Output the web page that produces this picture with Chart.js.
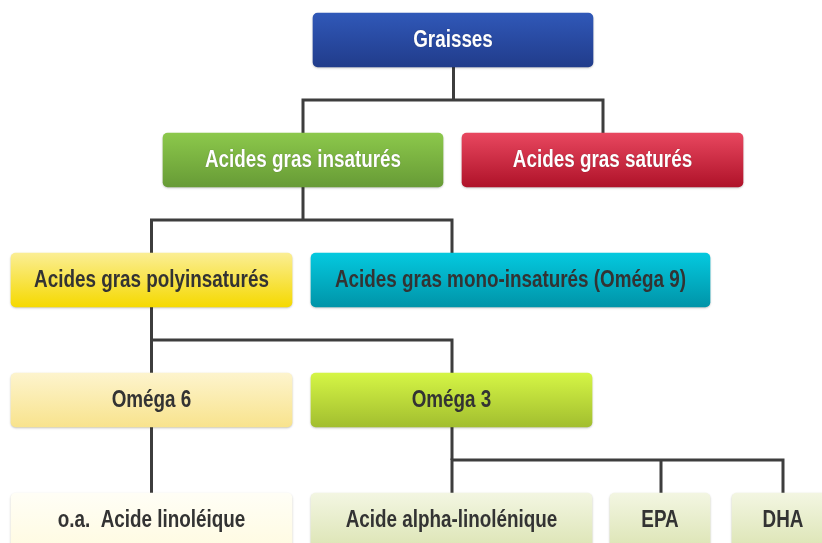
<!DOCTYPE html>
<html>
<head>
<meta charset="utf-8">
<script src="https://cdn.jsdelivr.net/npm/chart.js@4/dist/chart.umd.min.js"></script>
<style>
  html, body { margin: 0; padding: 0; background: #fff; }
  canvas { display: block; }
</style>
</head>
<body>
<canvas id="tree" width="822" height="543"></canvas>
<script>
// boxes of the tree
const labels = [
    "Graisses",
    "Acides gras insaturés",
    "Acides gras saturés",
    "Acides gras polyinsaturés",
    "Acides gras mono-insaturés (Oméga 9)",
    "Oméga 6",
    "Oméga 3",
    "o.a.  Acide linoléique",
    "Acide alpha-linolénique",
    "EPA",
    "DHA",
];
const levels = [0, 1, 1, 2, 2, 3, 3, 4, 4, 4, 4];
const starts = [313, 163, 462, 11, 311, 11, 311, 11, 311, 610, 732];
const ends = [593, 443, 743, 292, 710, 292, 592, 292, 592, 710, 834];
// where the connector line meets each box
const anchors = [453.5, 303, 603, 151.5, 452, 151.5, 452, 151.5, 452, 661, 783];
const parents = [-1, 0, 0, 1, 1, 3, 3, 5, 6, 6, 6];

// colours (top of gradient, bottom of gradient, text)
const topColors = ["#3058b8", "#8cc84b", "#e8475f", "#fbee94", "#04c9df", "#fdf4cd", "#d5f545", "#fffef6", "#f3f6e2", "#f3f6e2", "#f3f6e2"];
const bottomColors = ["#213c8b", "#679b36", "#af1229", "#f5d900", "#0094a8", "#f8e38d", "#a2be2f", "#fffbe2", "#dde5b6", "#dde5b6", "#dde5b6"];
const textColors = ["#fff", "#fff", "#fff", "#333", "#333", "#333", "#333", "#333", "#333", "#333", "#333"];

const boxData = labels.map((l, i) => ({ y: levels[i], x: [starts[i], ends[i]] }));

function boxGradient(context) {
    const chart = context.chart;
    const i = context.dataIndex;
    if (!chart.chartArea || i === undefined) return topColors[i] || "#ccc";
    const yc = chart.scales.y.getPixelForValue(levels[i]);
    const g = chart.ctx.createLinearGradient(0, yc - 27, 0, yc + 27);
    g.addColorStop(0, topColors[i]);
    g.addColorStop(1, bottomColors[i]);
    return g;
}

// connectors built from the parent links
const segments = [];
for (let p = 0; p < labels.length; p++) {
    const kids = [];
    parents.forEach((q, k) => { if (q === p) kids.push(k); });
    if (!kids.length) continue;
    const px = anchors[p];
    const pl = levels[p];
    const bus = pl + 0.5;
    if (kids.length === 1 && anchors[kids[0]] === px) {
        segments.push([{ x: px, y: pl }, { x: px, y: levels[kids[0]] }]);
        continue;
    }
    kids.sort((a, b) => anchors[a] - anchors[b]);
    const first = kids[0];
    const last = kids[kids.length - 1];
    segments.push([
        { x: anchors[first], y: levels[first] },
        { x: anchors[first], y: bus },
        { x: anchors[last], y: bus },
        { x: anchors[last], y: levels[last] },
    ]);
    segments.push([{ x: px, y: pl }, { x: px, y: bus }]);
    kids.slice(1, -1).forEach((k) => {
        segments.push([{ x: anchors[k], y: bus }, { x: anchors[k], y: levels[k] }]);
    });
}

const lineSets = segments.map((s) => ({
    type: "line",
    data: s,
    borderColor: "#3d3d3d",
    borderWidth: 3,
    pointRadius: 0,
    fill: false,
    tension: 0,
    borderJoinStyle: "miter",
    order: 1,
}));

const boxShadow = {
    id: "boxShadow",
    beforeDatasetDraw(chart, args) {
        if (args.index !== 0) return;
        const ctx = chart.ctx;
        ctx.save();
        ctx.shadowColor = "rgba(0,0,0,0.22)";
        ctx.shadowBlur = 2;
        ctx.shadowOffsetY = 1;
    },
    afterDatasetDraw(chart, args) {
        if (args.index !== 0) return;
        chart.ctx.restore();
    },
};

const boxLabels = {
    id: "boxLabels",
    afterDatasetsDraw(chart) {
        const ctx = chart.ctx;
        const meta = chart.getDatasetMeta(0);
        meta.data.forEach((bar, i) => {
            const { x, y, base } = bar.getProps(["x", "y", "base"], true);
            const cx = (x + base) / 2;
            ctx.save();
            ctx.translate(cx, y + 1);
            ctx.scale(0.82, 1);
            ctx.font = 'bold 23px "Liberation Sans", Arial, sans-serif';
            ctx.textAlign = "center";
            ctx.textBaseline = "middle";
            if (textColors[i] === "#fff") {
                ctx.shadowColor = "rgba(0,0,0,0.35)";
                ctx.shadowBlur = 1;
            }
            ctx.fillStyle = textColors[i];
            ctx.fillText(labels[i], 0, 0);
            ctx.restore();
        });
    },
};

new Chart(document.getElementById("tree"), {
    type: "bar",
    data: {
        datasets: [
            {
                label: "Boîtes",
                data: boxData,
                indexAxis: "y",
                grouped: false,
                barThickness: 54,
                backgroundColor: boxGradient,
                borderRadius: 5,
                borderSkipped: false,
                borderWidth: 0,
                order: 0,
            },
            ...lineSets,
        ],
    },
    plugins: [boxShadow, boxLabels],
    options: {
        responsive: false,
        animation: false,
        events: [],
        layout: { padding: 0 },
        scales: {
            x: { type: "linear", min: 0, max: 822, offset: false, display: false },
            y: { type: "linear", min: -1 / 3, max: 4.1917, offset: false, reverse: true, display: false },
        },
        plugins: {
            legend: { display: false },
            tooltip: { enabled: false },
        },
    },
});
</script>
</body>
</html>
